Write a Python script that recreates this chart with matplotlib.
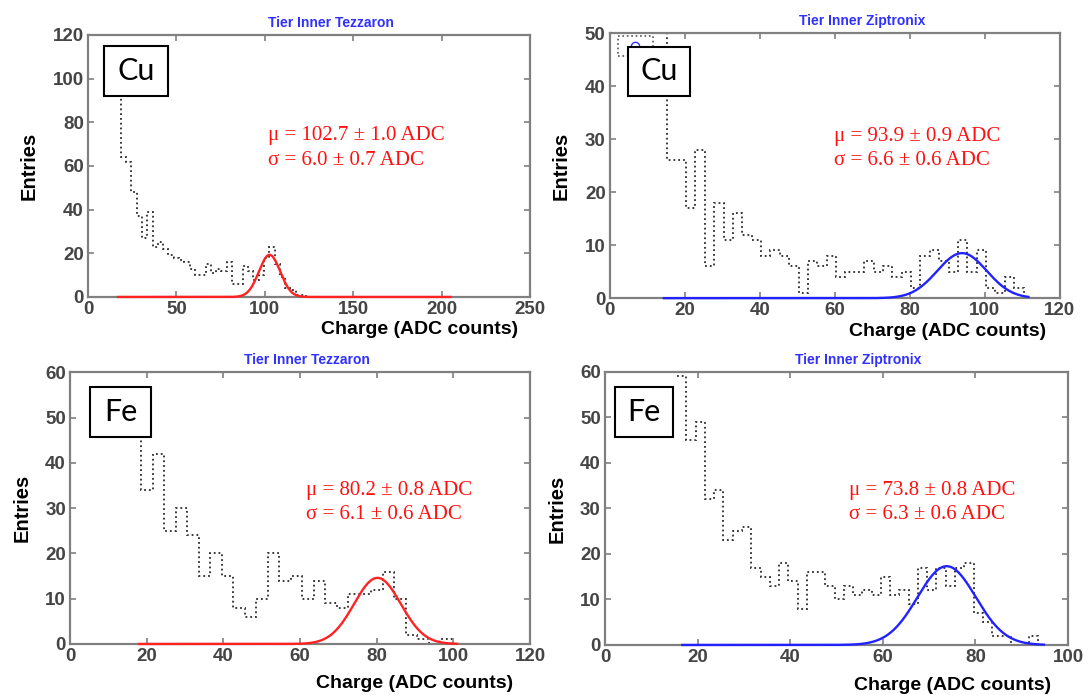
import numpy as np
import matplotlib.pyplot as plt
from matplotlib.patches import Rectangle

# Entries per bin; first bin edge and bin width are in ADC counts.
cu_tez_counts = [110, 64, 62, 48, 37, 27, 39, 23, 25, 22, 19, 18, 17, 16, 13, 10, 10,
                 15, 11, 13, 12, 16, 6, 6, 14, 12, 8, 10, 18, 23, 15, 9, 4, 3, 1, 1, 0]
cu_tez_start, cu_tez_width = 15.5, 3.0

cu_zip_counts = [60, 26, 26, 17, 28, 6, 18, 11, 16, 12, 11, 8, 9, 8, 6, 1, 7, 6, 8, 4,
                 5, 5, 7, 5, 6, 4, 5, 2, 8, 9, 7, 5, 11, 5, 9, 2, 1, 4, 2, 0]
cu_zip_start, cu_zip_width = 12.8, 2.5

fe_tez_counts = [50, 34, 42, 25, 30, 24, 15, 20, 15, 8, 6, 10, 20, 14, 15, 10, 14, 9,
                 8, 11, 11, 12, 16, 10, 2, 1, 0, 1, 0]
fe_tez_start, fe_tez_width = 15.6, 3.0

fe_zip_counts = [59, 45, 49, 32, 34, 23, 25, 26, 17, 15, 13, 18, 14, 8, 16, 16, 13, 10,
                 13, 11, 12, 11, 15, 11, 12, 9, 17, 12, 17, 13, 17, 18, 7, 5, 2, 2, 0, 0, 2, 0]
fe_zip_start, fe_zip_width = 15.6, 2.0

# gaussian fits: mean, error, sigma, error, peak height, drawn range
cu_tez_fit = dict(mu=102.7, dmu=1.0, sig=6.0, dsig=0.7, amp=19.3, lo=17.0, hi=205.0)
cu_zip_fit = dict(mu=93.9, dmu=0.9, sig=6.6, dsig=0.6, amp=8.5, lo=14.4, hi=111.6)
fe_tez_fit = dict(mu=80.2, dmu=0.8, sig=6.1, dsig=0.6, amp=14.6, lo=18.0, hi=101.0)
fe_zip_fit = dict(mu=73.8, dmu=0.8, sig=6.3, dsig=0.6, amp=17.3, lo=16.7, hi=94.8)

titles = ['Tier Inner Tezzaron', 'Tier Inner Ziptronix',
          'Tier Inner Tezzaron', 'Tier Inner Ziptronix']
elements = ['Cu', 'Cu', 'Fe', 'Fe']
xmax = [250, 120, 120, 100]
xstep = [50, 20, 20, 20]
ymax = [120, 50, 60, 60]
ystep = [20, 10, 10, 10]

panels = [
    dict(counts=cu_tez_counts, start=cu_tez_start, width=cu_tez_width, fit=cu_tez_fit,
         rect=[0.0807, 0.5727, 0.405, 0.377], fitcol='#ff2222',
         box=(0.036, 0.768, 0.145, 0.19), txt=(102, 73.8, 62.3), tx=0.55, lab_y=-0.125),
    dict(counts=cu_zip_counts, start=cu_zip_start, width=cu_zip_width, fit=cu_zip_fit,
         rect=[0.559, 0.571, 0.4125, 0.381], fitcol='#2222ff',
         box=(0.04, 0.762, 0.139, 0.188), txt=(59.8, 30.6, 25.9), tx=0.56, lab_y=-0.125),
    dict(counts=fe_tez_counts, start=fe_tez_start, width=fe_tez_width, fit=fe_tez_fit,
         rect=[0.0642, 0.0734, 0.4216, 0.391], fitcol='#ff2222',
         box=(0.044, 0.762, 0.132, 0.183), txt=(61.5, 33.9, 28.5), tx=0.515, lab_y=-0.147),
    dict(counts=fe_zip_counts, start=fe_zip_start, width=fe_zip_width, fit=fe_zip_fit,
         rect=[0.5545, 0.072, 0.4244, 0.393], fitcol='#2222ff',
         box=(0.021, 0.762, 0.127, 0.183), txt=(52.6, 34.0, 28.7), tx=0.546, lab_y=-0.147),
]

fig = plt.figure(figsize=(10.91, 6.95), dpi=100)
frame_col = '#808080'
tick_col = '#454545'

for i, p in enumerate(panels):
    ax = fig.add_axes(p['rect'])
    counts = np.array(p['counts'], dtype=float)
    edges = p['start'] + p['width'] * np.arange(len(counts) + 1)
    ax.stairs(counts, edges, baseline=None, color='#2a2a2a', linestyle=':', linewidth=1.3)

    f = p['fit']
    x = np.linspace(f['lo'], f['hi'], 500)
    ax.plot(x, f['amp'] * np.exp(-0.5 * ((x - f['mu']) / f['sig']) ** 2),
            color=p['fitcol'], linewidth=1.7, zorder=3, clip_on=False)

    ax.set_xlim(0, xmax[i])
    ax.set_ylim(0, ymax[i])
    ax.set_xticks(np.arange(0, xmax[i] + 1, xstep[i]))
    ax.set_yticks(np.arange(0, ymax[i] + 1, ystep[i]))
    ax.tick_params(direction='in', top=True, right=True, length=4, width=1.2,
                   color=frame_col, labelsize=13.5, labelcolor=tick_col, pad=3)
    for lab in ax.get_xticklabels() + ax.get_yticklabels():
        lab.set_fontweight('bold')
        lab.set_family('Liberation Sans')
    for s in ax.spines.values():
        s.set_color(frame_col)
        s.set_linewidth(1.6)

    ax.text(p['tx'], 1.045, titles[i], transform=ax.transAxes, ha='center', va='center',
            color='#3030ff', fontsize=10, fontweight='bold', family='Liberation Sans')
    ax.set_ylabel('Entries', fontsize=14.5, fontweight='bold', family='Liberation Sans',
                  labelpad=10)
    ax.text(0.75, p['lab_y'], 'Charge (ADC counts)', transform=ax.transAxes,
            ha='center', va='center', fontsize=14, fontweight='bold',
            family='Liberation Sans', clip_on=False)

    tx, ty1, ty2 = p['txt']
    ax.text(tx, ty1, '\u03bc = %.1f \u00b1 %.1f ADC' % (f['mu'], f['dmu']),
            color='#ff1010', fontsize=15, family='Liberation Serif', va='center')
    ax.text(tx, ty2, '\u03c3 = %.1f \u00b1 %.1f ADC' % (f['sig'], f['dsig']),
            color='#ff1010', fontsize=15, family='Liberation Serif', va='center')

    if i == 1:
        # leftover legend frame in the corner
        ax.add_patch(Rectangle((2.2, 45.8), 9.4, 3.7, fill=False, linestyle=':',
                               edgecolor='#555555', linewidth=1.2, zorder=3))
        ax.plot([6.8], [47.6], 'o', mfc='none', mec='#3030ff', ms=6, zorder=3)

    bx, by, bw, bh = p['box']
    ax.add_patch(Rectangle((bx, by), bw, bh, transform=ax.transAxes, facecolor='white',
                           edgecolor='black', linewidth=1.5, zorder=5))
    ax.text(bx + bw / 2, by + bh / 2, elements[i], transform=ax.transAxes, ha='center',
            va='center', fontsize=22, family='Lato', zorder=6)

fig.savefig('out.png', dpi=100)
